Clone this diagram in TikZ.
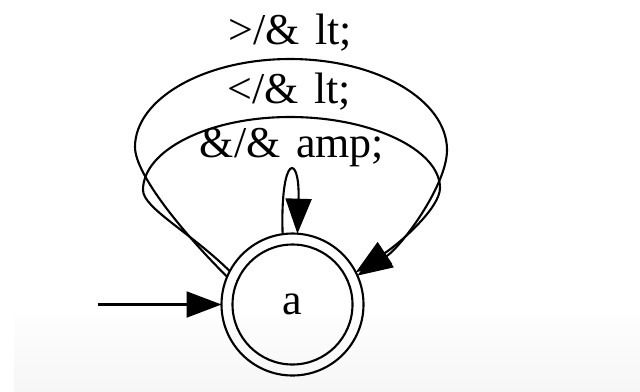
\documentclass[tikz,border=0pt]{standalone}
\usepackage{fontspec}
\setmainfont{Liberation Serif}
\usetikzlibrary{arrows.meta}
\newcommand\edgelabelfont{\fontsize{44bp}{52bp}\selectfont\spaceskip=0.35em\relax}
\begin{document}
\begin{tikzpicture}[x=1bp,y=-1bp,
  edge/.style={line width=2.1bp, -{Triangle[length=35bp,width=26bp]}},
  lbl/.style={font=\edgelabelfont, inner sep=0, anchor=base},
  state/.style={circle, draw, line width=2.1bp, outer sep=0, inner sep=0}]
\useasboundingbox (0,0) rectangle (640,391);
% faint grey band along the bottom
\shade[top color=gray!1, bottom color=gray!7] (14,313) rectangle (640,391);

% accepting state
\node[state, minimum size=142bp] (a) at (292.5,304.5) {};
\node[state, minimum size=120bp, font=\fontsize{44bp}{52bp}\selectfont] (ai) at (a) {a};

% start arrow
\coordinate (s) at (98,304.5);
\draw[edge] (s) -- (a.180);

% outer loop: >/& lt;
\draw[edge] (a.157) .. controls (185,235) and (135,175) .. (135,147)
  .. controls (135,99) and (204,59) .. (290,59)
  .. controls (377,59) and (447,100) .. (447,150)
  .. controls (447,185) and (402,246) .. (a.24);

% middle loop: </& lt;
\draw[edge] (a.152) .. controls (190,232) and (143,208) .. (143,190)
  .. controls (143,150) and (209,117) .. (290,117)
  .. controls (372,117) and (440,150) .. (440,188)
  .. controls (440,208) and (400,243) .. (a.27);

% small loop: &/& amp;
\draw[edge] (a.98) .. controls (280,153) and (300,153) .. (a.86);

% edge labels
\node[lbl] (l1) at (290,44) {>/\& lt;};
\node[lbl] (l2) at (289.5,103) {</\& lt;};
\node[lbl] (l3) at (292,157) {\&/\& amp;};
\end{tikzpicture}
\end{document}
